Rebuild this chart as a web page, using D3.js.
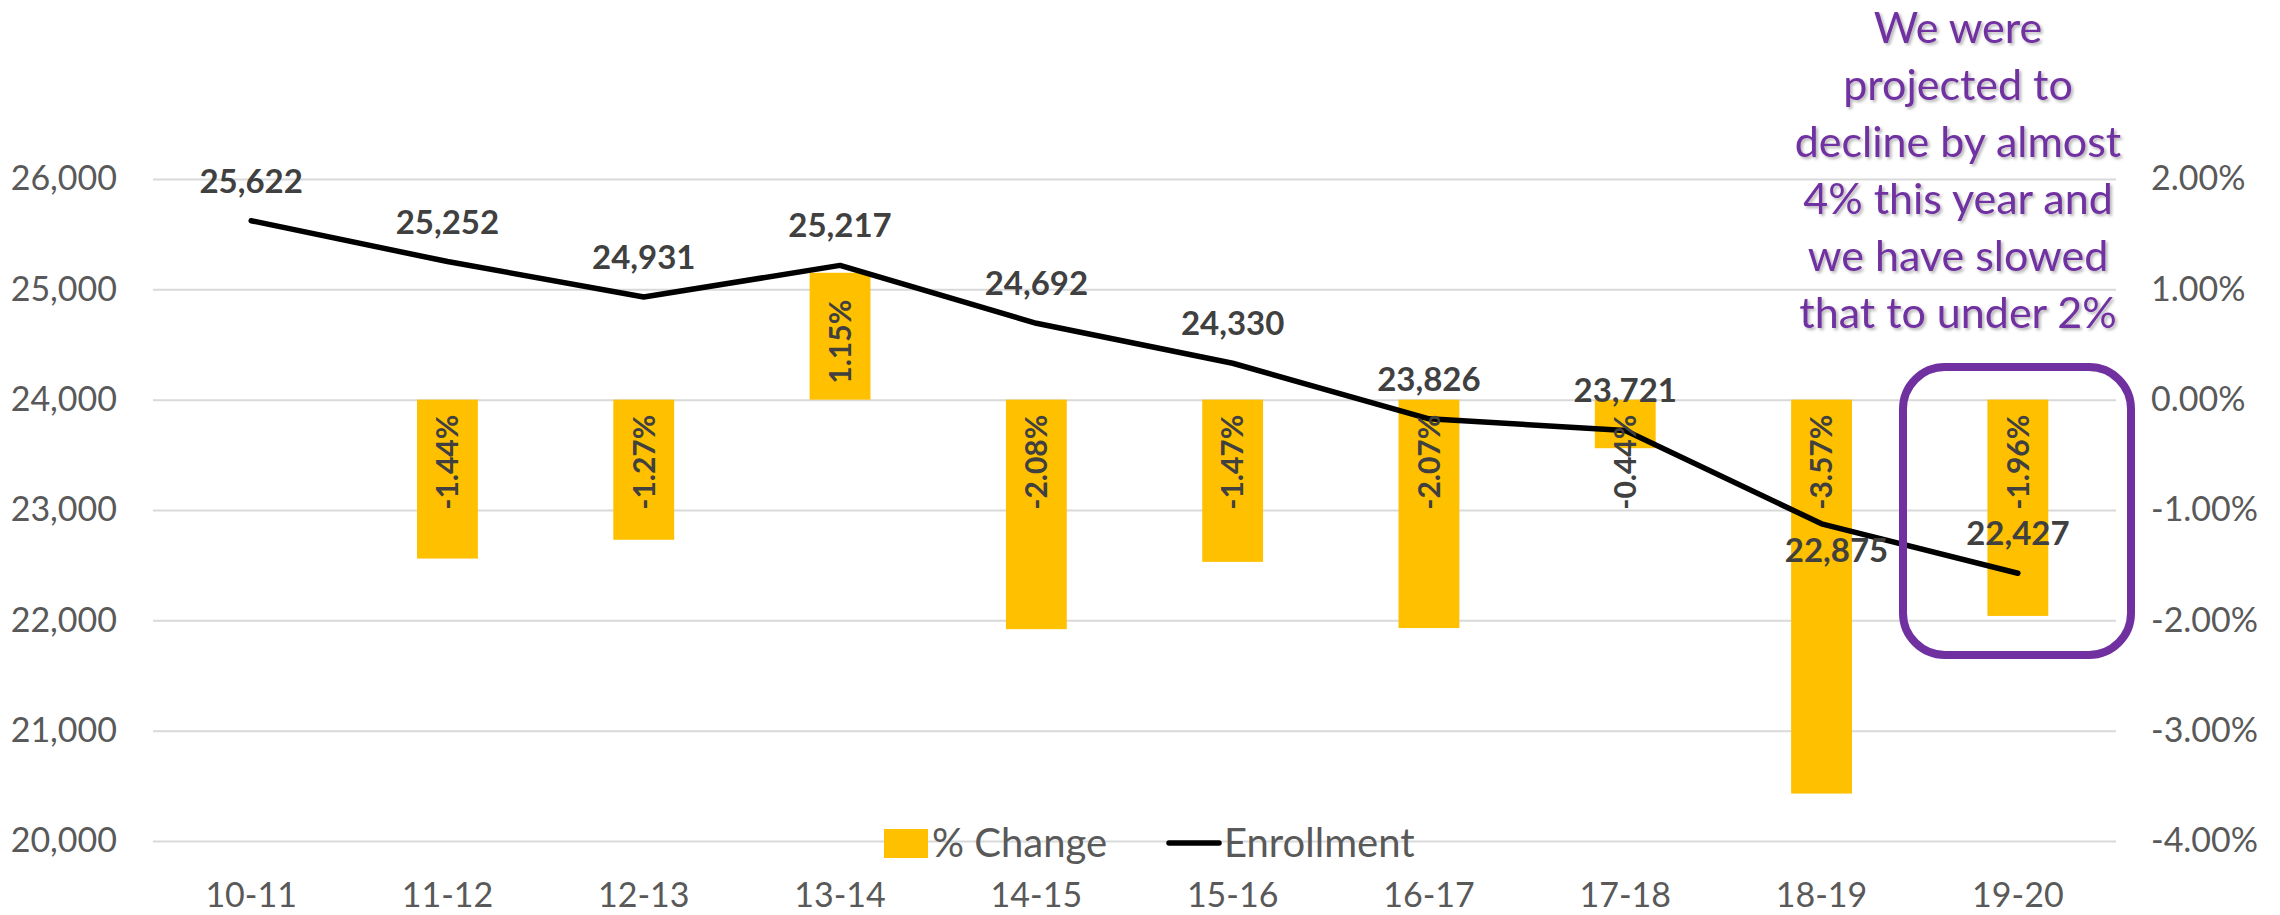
<!DOCTYPE html>
<html>
<head>
<meta charset="utf-8">
<script src="https://cdnjs.cloudflare.com/ajax/libs/d3/7.8.5/d3.min.js"></script>
<style>
  body { margin: 0; background: #fff; }
  text { font-family: Lato, 'Noto Sans', sans-serif; }
</style>
</head>
<body>
<script>
// school years along the bottom
const years = ['10-11', '11-12', '12-13', '13-14', '14-15', '15-16', '16-17', '17-18', '18-19', '19-20']

// total enrollment (line, left axis)
const enrollment = [25622, 25252, 24931, 25217, 24692, 24330, 23826, 23721, 22875, 22427]

// % change from the year before (bars, right axis), first year has none
const pctChange = [null, -1.44, -1.27, 1.15, -2.08, -1.47, -2.07, -0.44, -3.57, -1.96]

const leftTicks = [20000, 21000, 22000, 23000, 24000, 25000, 26000]
const rightTicks = [-4, -3, -2, -1, 0, 1, 2]

const legendLabels = ['% Change', 'Enrollment']

const noteLines = ['We were', 'projected to', 'decline by almost', '4% this year and', 'we have slowed', 'that to under 2%']

// measurements for the plot
let m = {
  width: 2280,
  height: 915,
  left: 153,
  right: 2116,
  top: 179,
  bottom: 841,
}

let svg = d3.select('body')
  .append('svg')
  .attr('width', m.width)
  .attr('height', m.height)

// soft shadow for the purple note
let defs = svg.append('defs')
let shadow = defs.append('filter').attr('id', 'shadow').attr('x', '-10%').attr('y', '-10%').attr('width', '130%').attr('height', '130%')
shadow.append('feDropShadow')
  .attr('dx', 2).attr('dy', 2).attr('stdDeviation', 1.5)
  .attr('flood-color', '#000').attr('flood-opacity', 0.3)

// scales
let x = d3.scaleBand()
  .domain(years)
  .range([m.left, m.right])
  .paddingInner(0.69)
  .paddingOuter(0.345)

let yLeft = d3.scaleLinear()
  .domain([20000, 26000])
  .range([m.bottom, m.top])

let yRight = d3.scaleLinear()
  .domain([-4, 2])
  .range([m.bottom, m.top])

let cx = function(year) { return x(year) + x.bandwidth() / 2 }

// axis text style, applied after d3 sets its own defaults
let styleAxis = function(g) {
  g.attr('font-family', 'Lato, sans-serif').attr('font-size', 34)
  g.select('.domain').remove()
  g.selectAll('text').attr('fill', '#595959')
}

// gridlines
svg.append('g')
  .attr('transform', 'translate(' + m.left + ',0)')
  .call(d3.axisLeft(yLeft).tickValues(leftTicks).tickSize(-(m.right - m.left)).tickFormat(''))
  .call(g => g.select('.domain').remove())
  .selectAll('line')
    .attr('stroke', '#d9d9d9')
    .attr('stroke-width', 2)

// left axis labels
svg.append('g')
  .attr('transform', 'translate(' + m.left + ',0)')
  .call(d3.axisLeft(yLeft).tickValues(leftTicks).tickSize(0).tickPadding(36).tickFormat(d3.format(',')))
  .call(styleAxis)

// right axis labels
svg.append('g')
  .attr('transform', 'translate(' + m.right + ',0)')
  .call(d3.axisRight(yRight).tickValues(rightTicks).tickSize(0).tickPadding(35).tickFormat(d => d.toFixed(2) + '%'))
  .call(styleAxis)

// bottom axis labels
svg.append('g')
  .attr('transform', 'translate(0,' + m.bottom + ')')
  .call(d3.axisBottom(x).tickSize(0).tickPadding(42))
  .call(styleAxis)

// legend (sits on top of the lowest gridline)
let legend = svg.append('g')
legend.append('rect')
  .attr('x', 884).attr('y', 829)
  .attr('width', 44).attr('height', 29)
  .attr('fill', '#ffc000')
legend.append('text')
  .attr('x', 932).attr('y', 857)
  .attr('font-size', 40).attr('fill', '#595959')
  .text(legendLabels[0])
legend.append('line')
  .attr('x1', 1169).attr('x2', 1219)
  .attr('y1', 843).attr('y2', 843)
  .attr('stroke', '#000').attr('stroke-width', 5.5).attr('stroke-linecap', 'round')
legend.append('text')
  .attr('x', 1224).attr('y', 857)
  .attr('font-size', 40).attr('fill', '#595959')
  .text(legendLabels[1])

// bars
let barData = years.map(function(y, i) { return { year: y, pct: pctChange[i] } })
  .filter(function(d) { return d.pct != null })

svg.selectAll('rect.bar')
  .data(barData)
  .enter()
  .append('rect')
    .attr('class', 'bar')
    .attr('x', d => x(d.year))
    .attr('width', x.bandwidth())
    .attr('y', d => yRight(Math.max(0, d.pct)))
    .attr('height', d => Math.abs(yRight(d.pct) - yRight(0)))
    .attr('fill', '#ffc000')

// enrollment line
let lineData = years.map(function(y, i) { return { year: y, value: enrollment[i] } })

let line = d3.line()
  .x(d => cx(d.year))
  .y(d => yLeft(d.value))

svg.append('path')
  .datum(lineData)
  .attr('d', line)
  .attr('fill', 'none')
  .attr('stroke', '#000')
  .attr('stroke-width', 5.5)
  .attr('stroke-linejoin', 'round')
  .attr('stroke-linecap', 'round')

// bar labels, rotated, starting from the zero line
svg.selectAll('text.pct')
  .data(barData)
  .enter()
  .append('text')
    .attr('class', 'pct')
    .attr('transform', function(d) {
      let yy = d.pct < 0 ? yRight(0) + 15 : yRight(0) - 16
      return 'translate(' + cx(d.year) + ',' + yy + ') rotate(-90)'
    })
    .attr('text-anchor', d => d.pct < 0 ? 'end' : 'start')
    .attr('dy', '0.36em')
    .attr('font-size', 30)
    .attr('font-weight', 'bold')
    .attr('fill', '#404040')
    .text(d => d.pct.toFixed(2) + '%')

// enrollment labels above the points (18-19 was moved under the line)
svg.selectAll('text.enr')
  .data(lineData)
  .enter()
  .append('text')
    .attr('class', 'enr')
    .attr('x', d => d.year == '18-19' ? cx(d.year) + 15 : cx(d.year))
    .attr('y', d => d.year == '18-19' ? yLeft(d.value) + 38 : yLeft(d.value) - 28)
    .attr('text-anchor', 'middle')
    .attr('font-size', 33)
    .attr('font-weight', 'bold')
    .attr('fill', '#404040')
    .text(d => d3.format(',')(d.value))

// purple call-out box round the last year
svg.append('rect')
  .attr('x', 1903).attr('y', 367)
  .attr('width', 228).attr('height', 288)
  .attr('rx', 42).attr('ry', 42)
  .attr('fill', 'none')
  .attr('stroke', '#7030a0')
  .attr('stroke-width', 8)

// purple note
svg.append('g')
  .attr('filter', 'url(#shadow)')
  .selectAll('text')
  .data(noteLines)
  .enter()
  .append('text')
    .attr('x', 1958)
    .attr('y', (d, i) => 43 + i * 57)
    .attr('text-anchor', 'middle')
    .attr('font-size', 43)
    .attr('fill', '#7030a0')
    .text(d => d)
</script>
</body>
</html>
